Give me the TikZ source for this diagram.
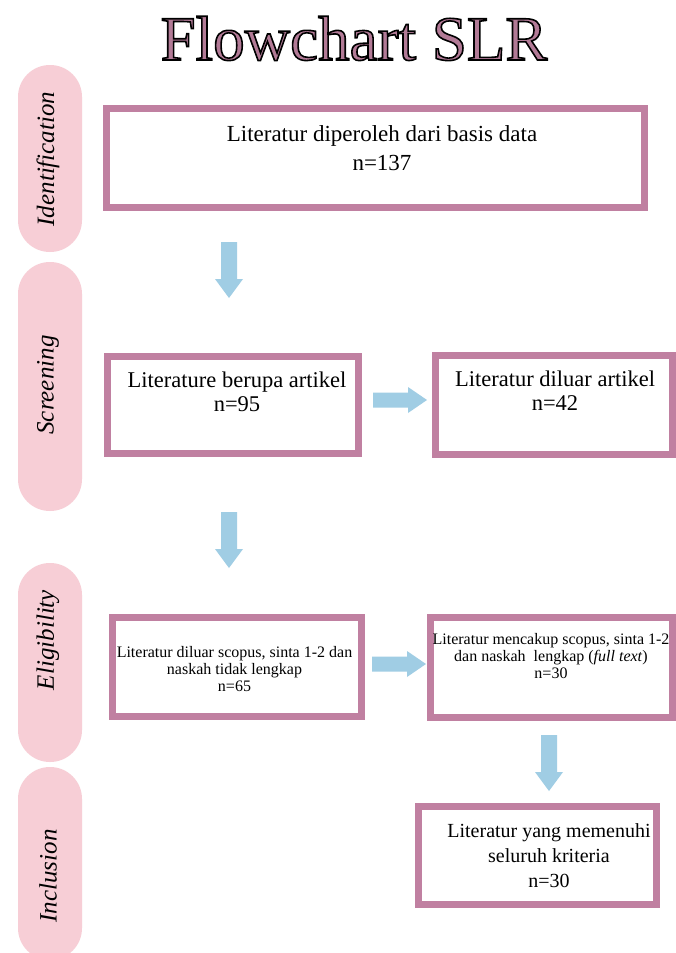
\documentclass[tikz,border=0pt]{standalone}
\usepackage{fontspec}
\setmainfont{Liberation Serif}
\definecolor{boxc}{RGB}{192,128,161}
\definecolor{pillc}{RGB}{247,206,214}
\definecolor{arrowc}{RGB}{160,205,228}
\definecolor{titlec}{RGB}{178,122,150}
\newcommand{\outlinedtext}[1]{\special{pdf:literal 0.698 0.478 0.588 rg 0 0 0 RG 1.6 w 2 Tr}#1\special{pdf:literal 0 Tr}}
\tikzset{
  boxnode/.style={draw=boxc, line width=7pt, rectangle, inner sep=0pt},
  pillnode/.style={fill=pillc, rectangle, rounded corners=31.9pt, minimum width=64pt, inner sep=0pt},
  pilltext/.style={rotate=90, inner sep=0pt, font=\itshape\fontsize{25}{25}\selectfont},
  bigtext/.style={align=center, inner sep=0pt, font=\fontsize{23}{29}\selectfont},
  midtext/.style={align=center, inner sep=0pt, font=\fontsize{22.5}{24}\selectfont},
  smalltext/.style={align=center, inner sep=0pt, font=\fontsize{16}{17}\selectfont},
  inctext/.style={align=center, inner sep=0pt, font=\fontsize{20}{25}\selectfont},
  downarr/.pic={\fill[arrowc] (-8,0) -- (-8,37) -- (-14,37) -- (0,56) -- (14,37) -- (8,37) -- (8,0) -- cycle;},
  rightarr/.pic={\fill[arrowc] (0,-7.5) -- (35,-7.5) -- (35,-13) -- (54,0) -- (35,13) -- (35,7.5) -- (0,7.5) -- cycle;}
}
\begin{document}
\begin{tikzpicture}[x=1pt,y=-1pt]
\useasboundingbox (0,0) rectangle (675,953);
\fill[white] (0,0) rectangle (675,953);

% title
\node[anchor=base, inner sep=0pt, font=\fontsize{63}{63}\selectfont] (title) at (354,60) {\outlinedtext{Flowchart SLR}};

% side pills
\node[pillnode, minimum height=187pt] (pid) at (50,158.5) {};
\node[pillnode, minimum height=249pt] (psc) at (50,386.5) {};
\node[pillnode, minimum height=199pt] (pel) at (50,662.5) {};
\node[pillnode, minimum height=193pt] (pin) at (50,863.5) {};
\node[pilltext] (tid) at (48,159) {Identification};
\node[pilltext] (tsc) at (48,385) {Screening};
\node[pilltext] (tel) at (48,640) {Eligibility};
\node[pilltext] (tin) at (48,876) {Inclusion};

% boxes
\node[boxnode, minimum width=538pt, minimum height=99pt] (b1) at (375.5,158) {};
\node[boxnode, minimum width=251pt, minimum height=97pt] (b2) at (233,405) {};
\node[boxnode, minimum width=237pt, minimum height=99pt] (b3) at (554,405) {};
\node[boxnode, minimum width=249pt, minimum height=99pt] (b4) at (237,667) {};
\node[boxnode, minimum width=242pt, minimum height=100pt] (b5) at (551.5,667.5) {};
\node[boxnode, minimum width=238pt, minimum height=98pt] (b6) at (537.5,855.5) {};

% texts
\node[bigtext] (t1) at (382,148) {Literatur diperoleh dari basis data\\n=137};
\node[midtext] (t2) at (237,392) {Literature berupa artikel\\n=95};
\node[midtext] (t3) at (555,391) {Literatur diluar artikel\\n=42};
\node[smalltext] (t4) at (234.5,669) {Literatur diluar scopus, sinta 1-2 dan\\naskah tidak lengkap\\n=65};
\node[smalltext] (t5) at (551,656) {Literatur mencakup scopus, sinta 1-2\\dan naskah\ \ lengkap (\textit{full text})\\n=30};
\node[inctext] (t6) at (549,856) {Literatur yang memenuhi\\seluruh kriteria\\n=30};

% block arrows
\pic at (229,242) {downarr};
\pic at (229,512) {downarr};
\pic at (549,735) {downarr};
\pic at (373,400) {rightarr};
\pic at (372,664) {rightarr};
\end{tikzpicture}
\end{document}
